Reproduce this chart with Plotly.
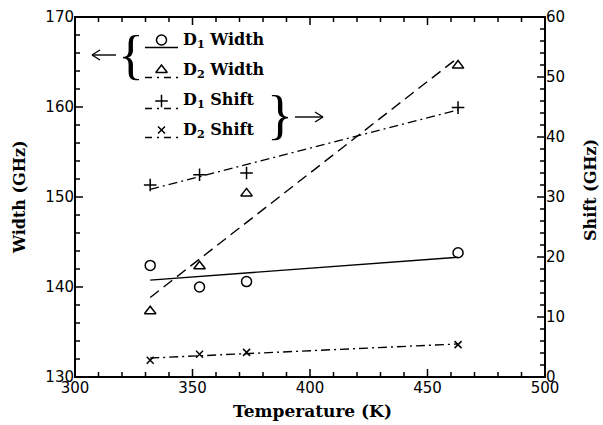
import numpy as np
import plotly.graph_objects as go

# ---------------- data ----------------
temperature = [332, 353, 373, 463]
width_d1 = [142.4, 140.0, 140.6, 143.8]
width_d2 = [137.3, 142.3, 150.4, 164.6]
shift_d1 = [32.0, 33.7, 34.0, 44.9]
shift_d2 = [2.8, 3.8, 4.1, 5.4]
legend_labels = ["D<sub>1</sub> Width", "D<sub>2</sub> Width",
                 "D<sub>1</sub> Shift", "D<sub>2</sub> Shift"]

x_range = [300, 500]
y_range = [130, 170]
y2_range = [0, 60]
x_major, x_minor = 50, 10
y_major, y_minor = 10, 2
y2_major, y2_minor = 10, 2

# ---------------- layout constants ----------------
W, H = 603, 425
ML, MR, MT, MB = 75, 58, 17, 48
PW, PH = W - ML - MR, H - MT - MB

SERIF = "DejaVu Serif"
BRACE = "Liberation Serif"
SANS = "DejaVu Sans"
BLACK = "black"


def px(xp):  # pixel -> paper x
    return (xp - ML) / PW


def py(yp):  # pixel -> paper y
    return (H - MB - yp) / PH


def dx(xp):  # pixel -> data x
    return x_range[0] + px(xp) * (x_range[1] - x_range[0])


def dy(yp):  # pixel -> data y (left axis)
    return y_range[0] + py(yp) * (y_range[1] - y_range[0])


fig = go.Figure()

t = np.array(temperature, dtype=float)
tfit = [float(t.min()), float(t.max())]

series = [
    (width_d1, "y", "circle-open", 10, "solid"),
    (width_d2, "y", "triangle-up-open", 10, "11px,6px"),
    (shift_d1, "y2", "cross-thin-open", 9, "9px,4px,2px,4px"),
    (shift_d2, "y2", "x-thin-open", 7, "9px,4px,2px,4px"),
]

for vals, yax, sym, size, dash in series:
    k, b = np.polyfit(t, np.array(vals), 1)
    fig.add_trace(go.Scatter(
        x=tfit, y=[float(k * v + b) for v in tfit], mode="lines", yaxis=yax,
        line=dict(color=BLACK, width=1.4, dash=dash),
        showlegend=False, hoverinfo="skip"))
    fig.add_trace(go.Scatter(
        x=temperature, y=vals, mode="markers", yaxis=yax,
        marker=dict(symbol=sym, size=size, color=BLACK,
                    line=dict(color=BLACK, width=1.5)),
        showlegend=False))

shapes = []
annotations = []

# ---------------- hand-drawn legend ----------------
row_y = [40, 70, 101, 130]
for (vals, yax, sym, size, dash), lab, ry in zip(series, legend_labels, row_y):
    fig.add_trace(go.Scatter(
        x=[dx(161.5)], y=[dy(ry)], mode="markers",
        marker=dict(symbol=sym, size=size, color=BLACK,
                    line=dict(color=BLACK, width=1.5)),
        showlegend=False, hoverinfo="skip"))
    shapes.append(dict(type="line", xref="paper", yref="paper",
                       x0=px(145), x1=px(178), y0=py(ry + 7.5), y1=py(ry + 7.5),
                       line=dict(color=BLACK, width=1.3,
                                 dash="solid" if dash == "solid" else "7px,5px,2px,5px")))
    annotations.append(dict(xref="paper", yref="paper", x=px(181), y=py(ry),
                            text="<b>" + lab + "</b>",
                            showarrow=False, xanchor="left", yanchor="middle",
                            font=dict(family=SERIF, size=16, color=BLACK)))

# braces
annotations.append(dict(xref="paper", yref="paper", x=px(131), y=py(55),
                        text="{", showarrow=False, xanchor="center", yanchor="middle",
                        font=dict(family=BRACE, size=54, color=BLACK)))
annotations.append(dict(xref="paper", yref="paper", x=px(280), y=py(115),
                        text="}", showarrow=False, xanchor="center", yanchor="middle",
                        font=dict(family=BRACE, size=54, color=BLACK)))


# arrows as line segments
def seg(x0, y0, x1, y1):
    return dict(type="line", xref="paper", yref="paper",
                x0=px(x0), y0=py(y0), x1=px(x1), y1=py(y1),
                line=dict(color=BLACK, width=1.4))


def arrow(x_tail, x_head, y):
    s = 1 if x_head > x_tail else -1
    return [seg(x_tail, y, x_head, y),
            seg(x_head - s * 8, y - 5, x_head, y),
            seg(x_head - s * 8, y + 5, x_head, y)]


shapes += arrow(116, 92, 55)
shapes += arrow(295, 323, 117)

# ---------------- frame and inside ticks (drawn on the axes' scales) ----------------
shapes.append(dict(type="rect", xref="paper", yref="paper", x0=0, x1=1, y0=0, y1=1,
                   line=dict(color=BLACK, width=2), layer="above"))
TICK = dict(color=BLACK, width=1.5)
for v in np.arange(x_range[0], x_range[1] + 0.001, x_minor):
    L = 8 if abs((v - x_range[0]) % x_major) < 1e-9 else 5
    for anchor, sgn in [(0, 1), (1, -1)]:
        shapes.append(dict(type="line", xref="x", yref="paper", x0=float(v), x1=float(v),
                           ysizemode="pixel", yanchor=anchor, y0=0, y1=sgn * L, line=TICK))
for v in np.arange(y_range[0], y_range[1] + 0.001, y_minor):
    L = 8 if abs((v - y_range[0]) % y_major) < 1e-9 else 5
    shapes.append(dict(type="line", yref="y", xref="paper", y0=float(v), y1=float(v),
                       xsizemode="pixel", xanchor=0, x0=0, x1=L, line=TICK))
for v in np.arange(y2_range[0], y2_range[1] + 0.001, y2_minor):
    L = 8 if abs((v - y2_range[0]) % y2_major) < 1e-9 else 5
    shapes.append(dict(type="line", yref="y2", xref="paper", y0=float(v), y1=float(v),
                       xsizemode="pixel", xanchor=1, x0=0, x1=-L, line=TICK))

# axis titles
annotations.append(dict(xref="paper", yref="paper", x=px(312), y=py(411),
                        text="<b>Temperature (K)</b>", showarrow=False,
                        xanchor="center", yanchor="middle",
                        font=dict(family=SERIF, size=17, color=BLACK)))
annotations.append(dict(xref="paper", yref="paper", x=px(19), y=py(197),
                        text="<b>Width (GHz)</b>", showarrow=False, textangle=-90,
                        xanchor="center", yanchor="middle",
                        font=dict(family=SERIF, size=16, color=BLACK)))
annotations.append(dict(xref="paper", yref="paper", x=px(591), y=py(190),
                        text="<b>Shift (GHz)</b>", showarrow=False, textangle=-90,
                        xanchor="center", yanchor="middle",
                        font=dict(family=SERIF, size=16, color=BLACK)))

tickfont = dict(family=SANS, size=15, color=BLACK)
common = dict(showgrid=False, zeroline=False, showline=False, ticks="",
              tickfont=tickfont, automargin=False)

fig.update_layout(
    width=W, height=H,
    margin=dict(l=ML, r=MR, t=MT, b=MB, pad=0, autoexpand=False),
    paper_bgcolor="white", plot_bgcolor="white",
    showlegend=False,
    xaxis=dict(range=x_range, dtick=x_major, tick0=x_range[0], **common),
    yaxis=dict(range=y_range, dtick=y_major, tick0=y_range[0], **common),
    yaxis2=dict(range=y2_range, dtick=y2_major, tick0=y2_range[0],
                overlaying="y", side="right", **common),
    shapes=shapes,
    annotations=annotations,
)

fig.write_html("out.html")
